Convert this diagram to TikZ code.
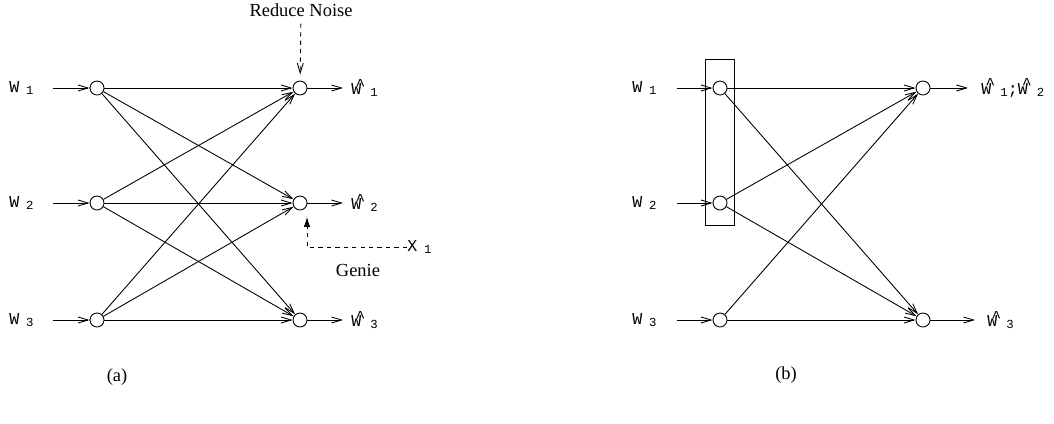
\documentclass[tikz,border=0pt]{standalone}
\usepackage{fontspec}
\setmainfont{Liberation Serif}
\setmonofont{Liberation Mono}
\usetikzlibrary{arrows.meta,positioning}

\newcommand{\wsub}[1]{\raisebox{-0.3ex}{\fontsize{7}{7}\selectfont\ttfamily #1}}
\newcommand{\wsym}[1]{\texttt{W}\hspace{0.4em}\wsub{#1}}
\newcommand{\whsym}[1]{\texttt{W}\kern-0.36em\raisebox{0.55ex}{\texttt{\char`\^}}\hspace{0.3em}\wsub{#1}}

\begin{document}
\begin{tikzpicture}[x=0.02cm, y=-0.02cm, line width=0.5pt,
    >={Straight Barb[length=2mm,width=1.2mm]},
    nd/.style={draw, circle, inner sep=0pt, minimum size=2.8mm},
    lab/.style={font=\fontsize{9.5}{10}\selectfont, inner sep=0pt, anchor=west},
    txt/.style={font=\fontsize{10.5}{12}\selectfont, inner sep=1pt},
    hint/.style={dash pattern=on 2.4pt off 2.4pt}]
    \useasboundingbox (0,0) rectangle (1054,423);
    % (a)
    \foreach \i/\y in {1/88,2/203,3/320} {
      \node[nd] (al\i) at (97,\y) {};
      \node[nd] (ar\i) at (300,\y) {};
      \node[lab] (aw\i) at (9,\y) {\wsym{\i}};
      \coordinate (ain\i) at (53,\y);
      \coordinate (aout\i) at (343,\y);
      \node[lab] (ao\i) at (351,\y) {\whsym{\i}};
      \draw[->] (ain\i) -- (al\i);
      \draw[->] (ar\i) -- (aout\i);
    }
    \foreach \i in {1,2,3} \foreach \j in {1,2,3} \draw[->] (al\i) -- (ar\j);
    \node[txt] (noise) at (301,10) {Reduce Noise};
    \draw[hint, ->, shorten <=1mm, shorten >=1.2mm] (noise) -- (ar1);
    \coordinate (gbend) at (307,247);
    \node[lab] (x1) at (407,247) {\texttt{X}\hspace{0.4em}\wsub{1}};
    \draw[hint, -{Latex[length=2mm,width=1.3mm]}, shorten >=1.3mm] (x1.west) -- (gbend) -- (gbend |- ar2.south);
    \node[txt] (genie) at (358,270) {Genie};
    \node[txt] (capa) at (117,377) {(a)};
    % (b)
    \foreach \i/\y in {1/88,2/203,3/320} {
      \node[nd] (bl\i) at (720,\y) {};
      \node[lab] (bw\i) at (632,\y) {\wsym{\i}};
      \coordinate (bin\i) at (677,\y);
      \draw[->] (bin\i) -- (bl\i);
    }
    \node[nd] (br1) at (923,88) {};
    \node[nd] (br3) at (923,320) {};
    \foreach \i in {1,2,3} \foreach \j in {1,3} \draw[->] (bl\i) -- (br\j);
    \node[draw, inner sep=0pt, minimum width=0.58cm, minimum height=3.32cm] (grp) at (719.5,142) {};
    \coordinate (bout1) at (968,88);
    \coordinate (bout3) at (975,320);
    \draw[->] (br1) -- (bout1);
    \draw[->] (br3) -- (bout3);
    \node[lab] (bo1) at (981,88) {\whsym{1}\texttt{;}\whsym{2}};
    \node[lab] (bo3) at (987,320) {\whsym{3}};
    \node[txt] (capb) at (786,375) {(b)};
  \end{tikzpicture}
\end{document}
